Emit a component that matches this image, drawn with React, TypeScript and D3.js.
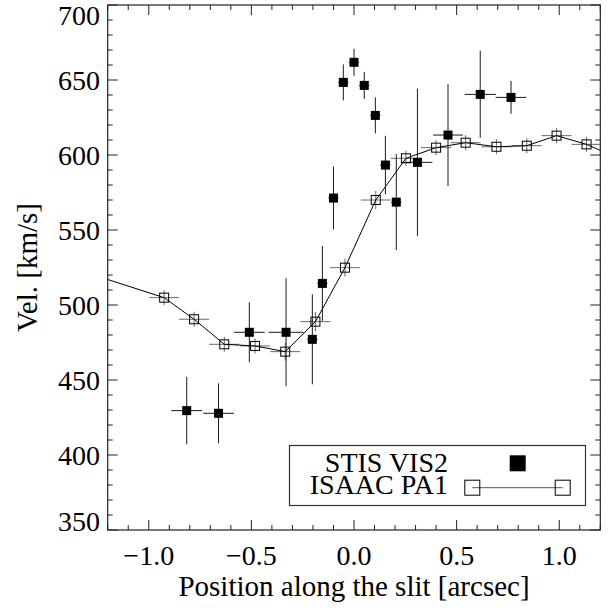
import React from "react";
import * as d3 from "d3";

// STIS VIS2 (filled squares)
const stisX = [-0.815, -0.66, -0.51, -0.331, -0.203, -0.154, -0.1, -0.052, 0.0, 0.05, 0.104, 0.153, 0.206, 0.309, 0.458, 0.615, 0.765];
const stisV = [429.6, 427.8, 481.8, 481.8, 477.1, 514.4, 571.3, 648.4, 661.8, 646.4, 626.4, 593.3, 568.6, 595.1, 613.3, 640.4, 638.4];
const stisVErr = [22.5, 20, 20, 36, 30, 25, 21, 12, 9, 9, 12, 19.5, 32, 49, 34, 29, 11];
const stisXErr = [0.075, 0.075, 0.075, 0.085, 0.025, 0.025, 0.025, 0.025, 0.025, 0.025, 0.025, 0.025, 0.025, 0.073, 0.073, 0.076, 0.075];

// ISAAC PA1 (open squares, connected)
const isaacX = [-1.366, -0.925, -0.779, -0.632, -0.482, -0.335, -0.188, -0.044, 0.106, 0.253, 0.4, 0.544, 0.694, 0.842, 0.987, 1.133, 1.28];
const isaacV = [524.3, 504.9, 490.5, 473.8, 472.7, 468.9, 488.9, 524.9, 570.0, 597.8, 604.9, 608.2, 605.5, 606.2, 612.9, 607.1, 598.2];
const isaacVErr = [5, 5, 5, 5, 5, 6, 6.5, 6, 6, 5, 5, 5, 5, 5, 5, 5, 5];
const isaacXErr = [0.073, 0.073, 0.073, 0.073, 0.073, 0.073, 0.073, 0.073, 0.073, 0.073, 0.073, 0.073, 0.073, 0.073, 0.073, 0.073, 0.073];

const xMajor = [-1.0, -0.5, 0.0, 0.5, 1.0];
const xMajorLabels = ["\u22121.0", "\u22120.5", "0.0", "0.5", "1.0"];
const yMajor = [350, 400, 450, 500, 550, 600, 650, 700];
const legendLabels = ["STIS VIS2", "ISAAC PA1"];

const FONT = "'Liberation Serif', 'Times New Roman', Times, serif";

export default function App() {
  const W = 611, H = 610;
  const L = 107.7, R = 600.3, T = 5, B = 530;
  const x = d3.scaleLinear().domain([-1.2, 1.2]).range([L, R]);
  const y = d3.scaleLinear().domain([350, 700]).range([B, T]);

  const xMinor = d3.range(-12, 13).map((d) => d / 10);
  const yMinor = d3.range(350, 701, 10);

  const isaac = isaacX.map((d, i) => ({ x: d, v: isaacV[i], ve: isaacVErr[i], xe: isaacXErr[i] }));
  const stis = stisX.map((d, i) => ({ x: d, v: stisV[i], ve: stisVErr[i], xe: stisXErr[i] }));
  const line = d3.line<any>().x((d) => x(d.x)).y((d) => y(d.v));

  const ms = 9;
  const tickFs = 28;
  const titleFs = 29;

  return (
    <svg width={W} height={H} style={{ position: "absolute", left: 0, top: 0, background: "#fff" }} fontFamily={FONT}>
      <defs>
        <clipPath id="plotclip">
          <rect x={L} y={T} width={R - L} height={B - T} />
        </clipPath>
      </defs>
      <rect x={0} y={0} width={W} height={H} fill="#fff" />

      <g clipPath="url(#plotclip)">
        {/* ISAAC error bars */}
        {isaac.map((d, i) => (
          <g key={"ie" + i} stroke="#6a6a6a" strokeWidth={1}>
            <line x1={x(d.x - d.xe)} x2={x(d.x + d.xe)} y1={y(d.v)} y2={y(d.v)} />
            <line x1={x(d.x)} x2={x(d.x)} y1={y(d.v - d.ve)} y2={y(d.v + d.ve)} />
          </g>
        ))}
        {/* STIS error bars */}
        {stis.map((d, i) => (
          <g key={"se" + i} stroke="#1a1a1a" strokeWidth={1}>
            <line x1={x(d.x - d.xe)} x2={x(d.x + d.xe)} y1={y(d.v)} y2={y(d.v)} />
            <line x1={x(d.x)} x2={x(d.x)} y1={y(d.v - d.ve)} y2={y(d.v + d.ve)} />
          </g>
        ))}
        {/* ISAAC line */}
        <path d={line(isaac) || ""} fill="none" stroke="#000" strokeWidth={1} />
        {/* ISAAC markers */}
        {isaac.map((d, i) => (
          <rect key={"im" + i} x={x(d.x) - ms / 2} y={y(d.v) - ms / 2} width={ms} height={ms} fill="none" stroke="#000" strokeWidth={1} />
        ))}
        {/* STIS markers */}
        {stis.map((d, i) => (
          <rect key={"sm" + i} x={x(d.x) - ms / 2} y={y(d.v) - ms / 2} width={ms} height={ms} fill="#000" />
        ))}
      </g>

      {/* Frame */}
      <rect x={L} y={T} width={R - L} height={B - T} fill="none" stroke="#222" strokeWidth={1.2} />

      {/* x ticks bottom & top */}
      {xMinor.map((v, i) => {
        const major = xMajor.some((m) => Math.abs(m - v) < 1e-6);
        const len = major ? 10 : 5;
        return (
          <g key={"xt" + i} stroke="#222" strokeWidth={1}>
            <line x1={x(v)} x2={x(v)} y1={B} y2={B - len} />
            <line x1={x(v)} x2={x(v)} y1={T} y2={T + len} />
          </g>
        );
      })}
      {/* y ticks left & right */}
      {yMinor.map((v, i) => {
        const major = v % 50 === 0;
        const len = major ? 10 : 5;
        return (
          <g key={"yt" + i} stroke="#222" strokeWidth={1}>
            <line x1={L} x2={L + len} y1={y(v)} y2={y(v)} />
            <line x1={R} x2={R - len} y1={y(v)} y2={y(v)} />
          </g>
        );
      })}

      {/* x tick labels */}
      {xMajor.map((v, i) => (
        <text key={"xl" + i} x={x(v)} y={565} fontSize={tickFs} textAnchor="middle" fill="#000">
          {xMajorLabels[i]}
        </text>
      ))}
      {/* y tick labels */}
      {yMajor.map((v, i) => (
        <text key={"yl" + i} x={100} y={Math.min(Math.max(y(v), 15), 521)} fontSize={tickFs} textAnchor="end" dominantBaseline="central" fill="#000">
          {v}
        </text>
      ))}

      {/* axis titles */}
      <text x={(L + R) / 2} y={596} fontSize={titleFs} textAnchor="middle" fill="#000">
        Position along the slit [arcsec]
      </text>
      <text transform={`translate(37, ${(T + B) / 2}) rotate(-90)`} fontSize={titleFs} textAnchor="middle" fill="#000">
        Vel. [km/s]
      </text>

      {/* Legend */}
      <rect x={289.5} y={445.5} width={296} height={60} fill="#fff" stroke="#333" strokeWidth={1.2} />
      <text x={448} y={472} fontSize={28} textAnchor="end" fill="#000">{legendLabels[0]}</text>
      <text x={448} y={494} fontSize={28} textAnchor="end" fill="#000">{legendLabels[1]}</text>
      <rect x={517.7 - 8} y={463.3 - 8} width={16} height={16} fill="#000" />
      <line x1={472.3} x2={562.7} y1={487.7} y2={487.7} stroke="#555" strokeWidth={1} />
      <rect x={472.3 - 7.5} y={487.7 - 7.5} width={15} height={15} fill="#fff" fillOpacity={0} stroke="#000" strokeWidth={1} />
      <rect x={562.7 - 7.5} y={487.7 - 7.5} width={15} height={15} fill="#fff" fillOpacity={0} stroke="#000" strokeWidth={1} />
    </svg>
  );
}
